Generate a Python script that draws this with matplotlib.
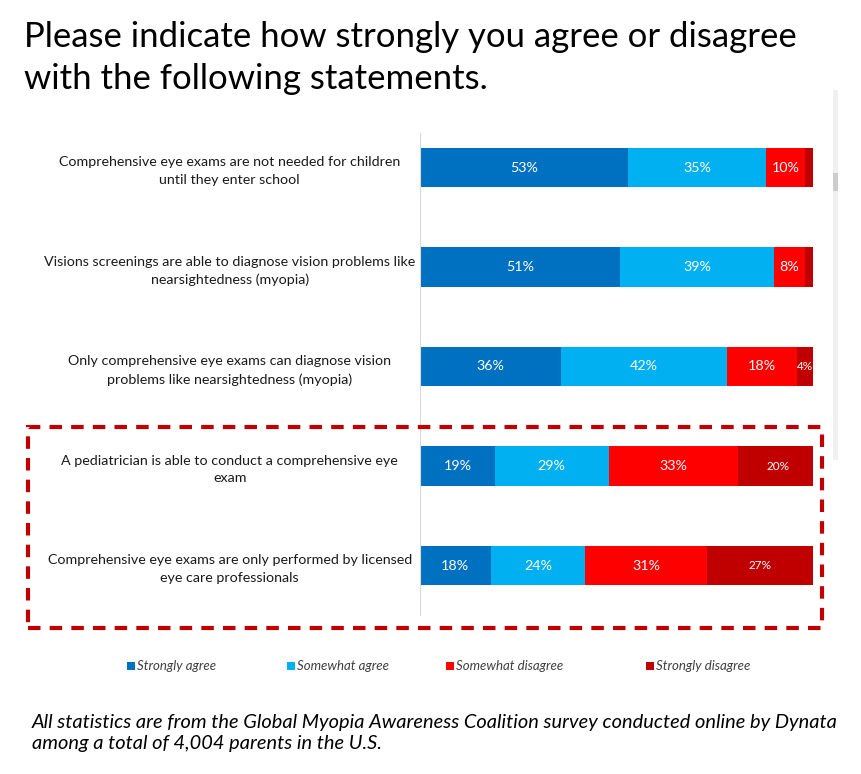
import matplotlib
matplotlib.use("agg")
import matplotlib.pyplot as plt
from matplotlib.patches import Rectangle
import numpy as np

plt.rcParams["font.family"] = ["Lato", "DejaVu Sans"]

# data
statements = [
    "Comprehensive eye exams are not needed for children\nuntil they enter school",
    "Visions screenings are able to diagnose vision problems like\nnearsightedness (myopia)",
    "Only comprehensive eye exams can diagnose vision\nproblems like nearsightedness (myopia)",
    "A pediatrician is able to conduct a comprehensive eye\nexam",
    "Comprehensive eye exams are only performed by licensed\neye care professionals",
]
series = ["Strongly agree", "Somewhat agree", "Somewhat disagree", "Strongly disagree"]
strongly_agree = [53, 51, 36, 19, 18]
somewhat_agree = [35, 39, 42, 29, 24]
somewhat_disagree = [10, 8, 18, 33, 31]
strongly_disagree = [2, 2, 4, 20, 27]
colors = ["#0070C0", "#00B0F0", "#FF0000", "#C00000"]

W, H = 861, 774
fig = plt.figure(figsize=(W / 100, H / 100), dpi=100)


def fx(px):
    return px / W


def fy(py):
    return 1 - py / H


# axes: left 420, right 813, top 133, bottom 615 (pixels)
ax = fig.add_axes([fx(420), fy(615), fx(813 - 420), (615 - 133) / H])

values = [strongly_agree, somewhat_agree, somewhat_disagree, strongly_disagree]
y = np.arange(len(statements))
left = np.zeros(len(statements))
for s, (vals, col) in enumerate(zip(values, colors)):
    vals = np.array(vals, dtype=float)
    ax.barh(y, vals, left=left, height=0.40, color=col, edgecolor="none")
    for i, v in enumerate(vals):
        if v < 3:
            continue
        small = s == 3
        ax.text(left[i] + v / 2, y[i], f"{int(v)}%", ha="center", va="center",
                color="white", fontsize=8.5 if small else 10.3)
    left += vals

ax.set_xlim(0, 100)
ax.set_ylim(4 + 49.5 / 99.5, -34.5 / 99.5)
ax.set_xticks([])
ax.set_yticks(y)
ax.set_yticklabels(statements, ha="center", multialignment="center",
                   fontsize=10.3, color="#1a1a1a", linespacing=1.55)
ax.tick_params(axis="y", length=0, pad=137)
for side in ["top", "right", "bottom"]:
    ax.spines[side].set_visible(False)
ax.spines["left"].set_color("#d9d9d9")
ax.spines["left"].set_linewidth(0.8)

# title
fig.text(fx(24), fy(21), "Please indicate how strongly you agree or disagree\nwith the following statements.",
         ha="left", va="top", fontsize=25, color="black", linespacing=1.4)

# legend, placed item by item
legend_x = [127, 287, 446, 646]
for name, col, px in zip(series, colors, legend_x):
    fig.add_artist(Rectangle((fx(px), fy(670)), fx(8), 8 / H, transform=fig.transFigure,
                             facecolor=col, edgecolor="none"))
    fig.text(fx(px + 10), fy(666), name, ha="left", va="center", fontsize=9.5,
             style="italic", color="#404040")

# dashed box highlighting the last two statements
box = Rectangle((fx(28), fy(628)), fx(822 - 28), (628 - 427) / H, transform=fig.transFigure,
                fill=False, edgecolor="#C00000", linewidth=3, linestyle=(0, (3, 2.2)))
fig.add_artist(box)

# scrollbar strip on the right
fig.add_artist(Rectangle((fx(833), fy(460)), fx(5), (460 - 90) / H, transform=fig.transFigure,
                         facecolor="#f0f0f0", edgecolor="none"))
fig.add_artist(Rectangle((fx(833), fy(191)), fx(5), (191 - 173) / H, transform=fig.transFigure,
                         facecolor="#cdcdcd", edgecolor="none"))

# footnote
fig.text(fx(32), fy(714), "All statistics are from the Global Myopia Awareness Coalition survey conducted online by Dynata\namong a total of 4,004 parents in the U.S.",
         ha="left", va="top", fontsize=14.4, style="italic", color="black", linespacing=1.32)

fig.savefig("out.png", dpi=100)
